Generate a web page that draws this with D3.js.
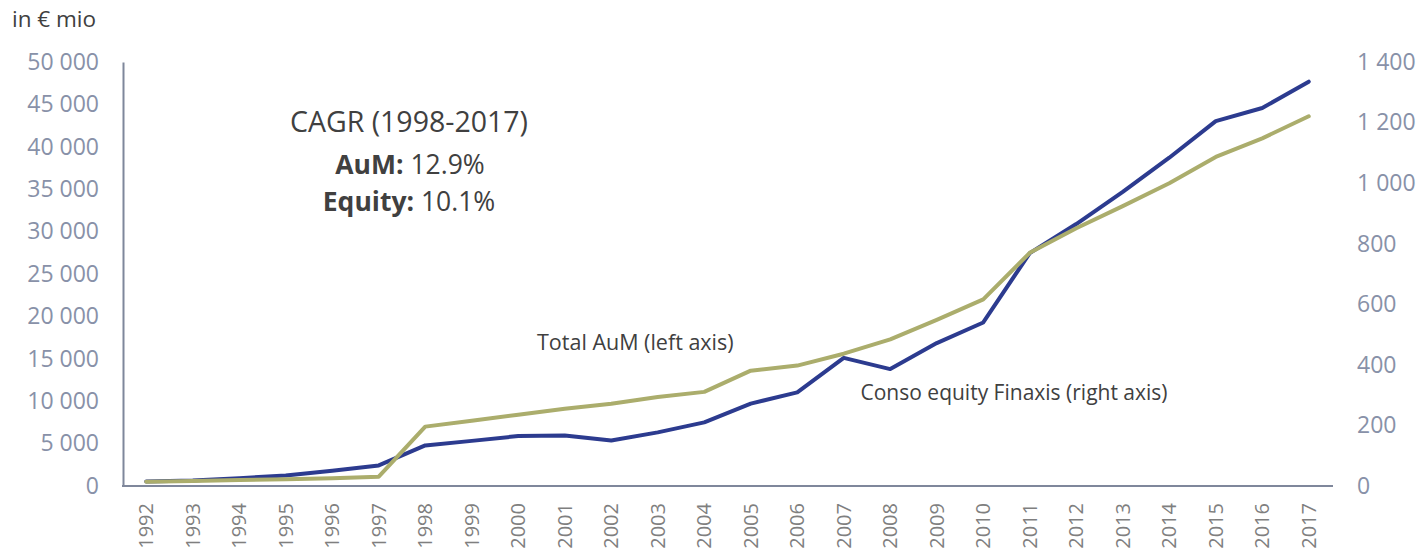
<!DOCTYPE html>
<html>
<head>
<meta charset="utf-8">
<script src="https://cdn.jsdelivr.net/npm/d3@7/dist/d3.min.js"></script>
<style>
  body { margin: 0; background: #fff; }
  svg { display: block; font-family: "Open Sans", sans-serif; }
</style>
</head>
<body>
<div id="chart"></div>
<script>
// years on the x axis
const years = ["1992","1993","1994","1995","1996","1997","1998","1999","2000","2001","2002","2003","2004",
               "2005","2006","2007","2008","2009","2010","2011","2012","2013","2014","2015","2016","2017"];

// Total AuM, € mio (left axis)
const totalAum = [500, 600, 700, 800, 900, 1100, 7000, 7700, 8400, 9100, 9700, 10500, 11100,
                  13600, 14200, 15600, 17300, 19600, 22000, 27500, 30400, 33000, 35700, 38800, 41000, 43600];

// Conso equity Finaxis, € mio (right axis)
const consoEquity = [15, 18, 26, 35, 50, 68, 134, 149, 165, 167, 150, 177, 210,
                     272, 309, 423, 386, 472, 540, 769, 865, 971, 1084, 1205, 1248, 1335];

const leftTicks = [0, 5000, 10000, 15000, 20000, 25000, 30000, 35000, 40000, 45000, 50000];
const rightTicks = [0, 200, 400, 600, 800, 1000, 1200, 1400];

const W = 1424, H = 554;
const margin = {top: 62, right: 92, bottom: 68, left: 123};

const axisColor = "#7f879b";
const tickColor = "#8891a8";
const textColor = "#404040";
const navy = "#2c3b8f";
const olive = "#abad6c";

const fmt = d3.formatLocale({decimal: ".", thousands: " ", grouping: [3], currency: ["", ""]}).format(",d");

const svg = d3.select("#chart").append("svg")
    .attr("width", W)
    .attr("height", H);

svg.append("rect").attr("width", W).attr("height", H).attr("fill", "#fff");

const x = d3.scaleBand()
    .domain(years)
    .range([margin.left, W - margin.right]);

const yLeft = d3.scaleLinear()
    .domain([0, 50000])
    .range([H - margin.bottom, margin.top]);

const yRight = d3.scaleLinear()
    .domain([0, 1400])
    .range([H - margin.bottom, margin.top]);

// left axis
const gLeft = svg.append("g")
    .attr("transform", "translate(" + margin.left + ",0)")
    .call(d3.axisLeft(yLeft).tickValues(leftTicks).tickSize(0).tickPadding(24).tickFormat(fmt));
gLeft.select(".domain").attr("stroke", axisColor).attr("stroke-width", 2);
gLeft.selectAll("text")
    .attr("fill", tickColor)
    .style("font-size", "23px")
    .style("font-family", "Open Sans");

// right axis (labels only)
const gRight = svg.append("g")
    .attr("transform", "translate(" + (W - margin.right) + ",0)")
    .call(d3.axisRight(yRight).tickValues(rightTicks).tickSize(0).tickPadding(25).tickFormat(fmt));
gRight.select(".domain").remove();
gRight.selectAll("text")
    .attr("fill", tickColor)
    .style("font-size", "23px")
    .style("font-family", "Open Sans");

// x axis
const gX = svg.append("g")
    .attr("transform", "translate(0," + (H - margin.bottom) + ")")
    .call(d3.axisBottom(x).tickSize(0).tickSizeOuter(0));
gX.select(".domain").attr("stroke", axisColor).attr("stroke-width", 2)
    .attr("d", "M" + (margin.left - 1) + ",0H" + (W - margin.right + 1));
gX.selectAll("text")
    .attr("fill", "#7f7f7f")
    .style("font-size", "20px")
    .style("font-family", "Open Sans")
    .attr("text-anchor", "end")
    .attr("transform", "rotate(-90)")
    .attr("x", -17)
    .attr("y", 0)
    .attr("dy", "0.36em");

// lines
const lineLeft = d3.line()
    .x((d, i) => x(years[i]) + x.bandwidth() / 2)
    .y(d => yLeft(d));

const lineRight = d3.line()
    .x((d, i) => x(years[i]) + x.bandwidth() / 2)
    .y(d => yRight(d));

svg.append("path")
    .datum(consoEquity)
    .attr("fill", "none")
    .attr("stroke", navy)
    .attr("stroke-width", 4)
    .attr("stroke-linejoin", "round")
    .attr("stroke-linecap", "round")
    .attr("d", lineRight);

svg.append("path")
    .datum(totalAum)
    .attr("fill", "none")
    .attr("stroke", olive)
    .attr("stroke-width", 4)
    .attr("stroke-linejoin", "round")
    .attr("stroke-linecap", "round")
    .attr("d", lineLeft);

// unit label
svg.append("text")
    .attr("x", 12)
    .attr("y", 27)
    .attr("fill", textColor)
    .style("font-size", "22.5px")
    .text("in € mio");

// series labels
svg.append("text")
    .attr("x", x("2000") + 42)
    .attr("y", yLeft(16000))
    .attr("fill", textColor)
    .style("font-size", "21.5px")
    .text("Total AuM (left axis)");

svg.append("text")
    .attr("x", x("2007") + 40)
    .attr("y", yLeft(10200))
    .attr("fill", textColor)
    .style("font-size", "21px")
    .text("Conso equity Finaxis (right axis)");

// CAGR box
const cagr = svg.append("g")
    .attr("text-anchor", "middle")
    .attr("fill", textColor);

cagr.append("text")
    .attr("x", 409)
    .attr("y", 132)
    .style("font-size", "28.5px")
    .text("CAGR (1998-2017)");

const aum = cagr.append("text")
    .attr("x", 410)
    .attr("y", 174)
    .style("font-size", "26.5px");
aum.append("tspan").style("font-weight", "bold").text("AuM:");
aum.append("tspan").text(" 12.9%");

const eq = cagr.append("text")
    .attr("x", 409)
    .attr("y", 211)
    .style("font-size", "26.5px");
eq.append("tspan").style("font-weight", "bold").text("Equity:");
eq.append("tspan").text(" 10.1%");
</script>
</body>
</html>
